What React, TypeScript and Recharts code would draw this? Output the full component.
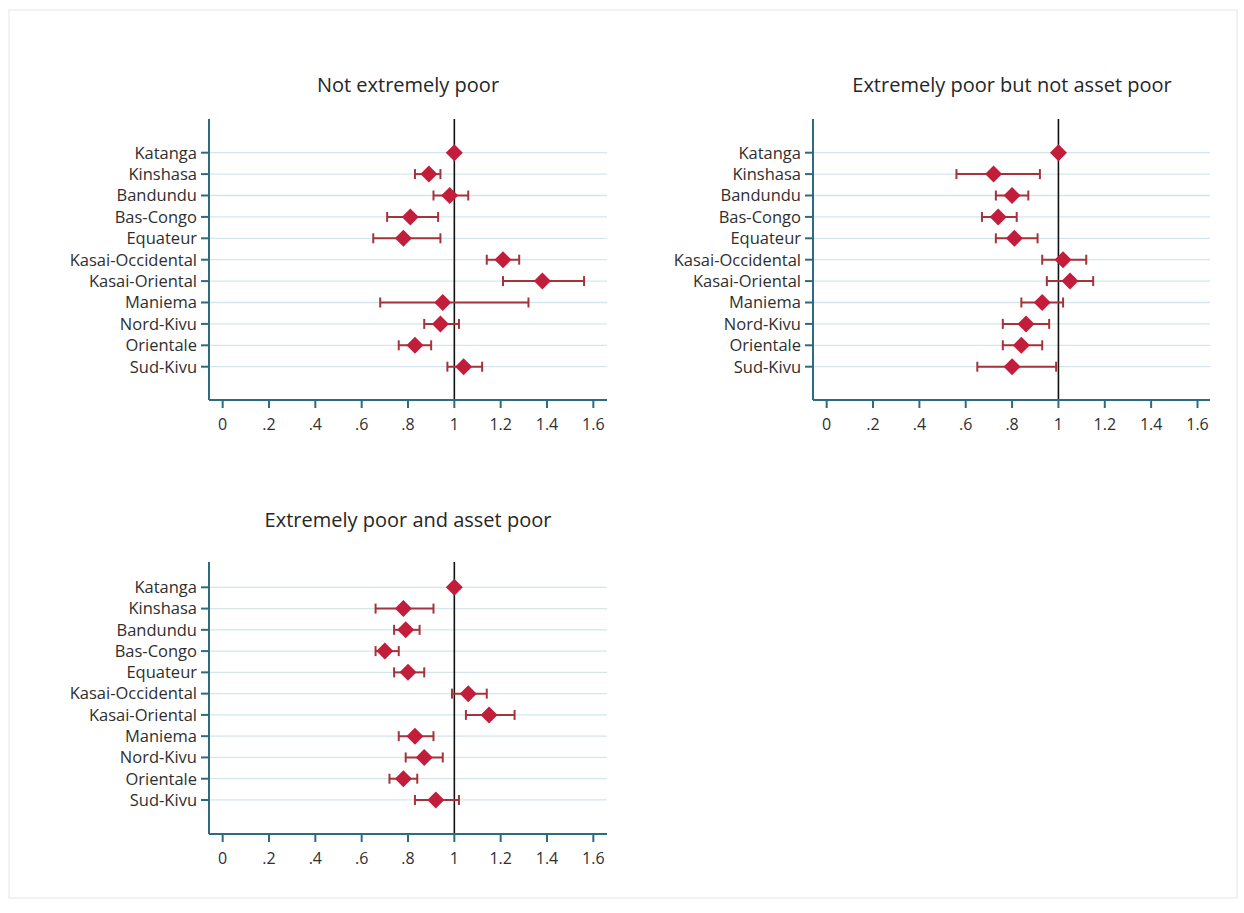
import React from 'react';
import {
  ComposedChart,
  Scatter,
  ErrorBar,
  XAxis,
  YAxis,
  ReferenceLine,
} from 'recharts';

// Provinces (Katanga is the reference category)
const regions = [
  'Katanga', 'Kinshasa', 'Bandundu', 'Bas-Congo', 'Equateur', 'Kasai-Occidental',
  'Kasai-Oriental', 'Maniema', 'Nord-Kivu', 'Orientale', 'Sud-Kivu',
];

const xTicks = [0, 0.2, 0.4, 0.6, 0.8, 1, 1.2, 1.4, 1.6];
const xTickLabels = ['0', '.2', '.4', '.6', '.8', '1', '1.2', '1.4', '1.6'];

// Not extremely poor
const est1 = [1.0, 0.89, 0.98, 0.81, 0.78, 1.21, 1.38, 0.95, 0.94, 0.83, 1.04];
const lo1 = [1.0, 0.83, 0.91, 0.71, 0.65, 1.14, 1.21, 0.68, 0.87, 0.76, 0.97];
const hi1 = [1.0, 0.94, 1.06, 0.93, 0.94, 1.28, 1.56, 1.32, 1.02, 0.9, 1.12];

// Extremely poor but not asset poor
const est2 = [1.0, 0.72, 0.8, 0.74, 0.81, 1.02, 1.05, 0.93, 0.86, 0.84, 0.8];
const lo2 = [1.0, 0.56, 0.73, 0.67, 0.73, 0.93, 0.95, 0.84, 0.76, 0.76, 0.65];
const hi2 = [1.0, 0.92, 0.87, 0.82, 0.91, 1.12, 1.15, 1.02, 0.96, 0.93, 0.99];

// Extremely poor and asset poor
const est3 = [1.0, 0.78, 0.79, 0.7, 0.8, 1.06, 1.15, 0.83, 0.87, 0.78, 0.92];
const lo3 = [1.0, 0.66, 0.74, 0.66, 0.74, 0.99, 1.05, 0.76, 0.79, 0.72, 0.83];
const hi3 = [1.0, 0.91, 0.85, 0.76, 0.87, 1.14, 1.26, 0.91, 0.95, 0.84, 1.02];

const AXIS = '#2d6b80';
const GRID = '#d4e6ec';
const MARKER = '#c21d3b';
const BAR = '#a3343c';
const TEXT = '#2f2f2f';
const FONT = '"Open Sans", sans-serif';

const buildRows = (est: number[], lo: number[], hi: number[]) =>
  regions.map((name, i) => ({
    name,
    row: i,
    est: est[i],
    err: [est[i] - lo[i], hi[i] - est[i]],
  }));

const Diamond = (props: any) => {
  const { cx, cy } = props;
  if (cx == null || cy == null) return null;
  const w = 8.5;
  const h = 8.5;
  return (
    <polygon
      points={`${cx},${cy - h} ${cx + w},${cy} ${cx},${cy + h} ${cx - w},${cy}`}
      fill={MARKER}
    />
  );
};

interface PanelProps {
  title: string;
  est: number[];
  lo: number[];
  hi: number[];
  left: number;
  top: number;
  width: number;
  height: number;
  axisWidth: number;
  marginTop: number;
  marginRight: number;
  xDomain: [number, number];
  yDomain: [number, number];
  titleX: number;
  titleY: number;
}

const Panel: React.FC<PanelProps> = (p) => {
  const data = buildRows(p.est, p.lo, p.hi);
  return (
    <>
      <div
        style={{
          position: 'absolute',
          left: p.titleX - 250,
          top: p.titleY - 15,
          width: 500,
          textAlign: 'center',
          fontFamily: FONT,
          fontSize: 20,
          color: '#262626',
          lineHeight: '30px',
        }}
      >
        {p.title}
      </div>
      <div style={{ position: 'absolute', left: p.left, top: p.top }}>
        <ComposedChart
          width={p.width}
          height={p.height}
          data={data}
          margin={{ top: p.marginTop, right: p.marginRight, bottom: 0, left: 0 }}
        >
          {regions.map((r, i) => (
            <ReferenceLine key={r} y={i} stroke={GRID} strokeWidth={1.3} />
          ))}
          <XAxis
            type="number"
            dataKey="est"
            domain={p.xDomain}
            allowDataOverflow
            ticks={xTicks}
            interval={0}
            tickFormatter={(v: number) => xTickLabels[xTicks.indexOf(v)] ?? String(v)}
            height={40}
            tickSize={8}
            tickMargin={11}
            stroke={AXIS}
            strokeWidth={2}
            tick={{ fill: TEXT, fontSize: 16, fontFamily: FONT }}
          />
          <YAxis
            type="number"
            dataKey="row"
            reversed
            domain={p.yDomain}
            allowDataOverflow
            ticks={regions.map((_, i) => i)}
            interval={0}
            tickFormatter={(v: number) => regions[Math.round(v)] ?? ''}
            width={p.axisWidth}
            tickSize={8}
            tickMargin={4}
            stroke={AXIS}
            strokeWidth={2}
            tick={{ fill: TEXT, fontSize: 16.5, fontFamily: FONT }}
          />
          <ReferenceLine x={1} stroke="#111111" strokeWidth={1.6} />
          <Scatter dataKey="est" shape={Diamond} isAnimationActive={false}>
            <ErrorBar dataKey="err" direction="x" width={5} stroke={BAR} strokeWidth={2} />
          </Scatter>
        </ComposedChart>
      </div>
    </>
  );
};

export default function App() {
  return (
    <div
      style={{
        position: 'absolute',
        left: 0,
        top: 0,
        width: 1244,
        height: 913,
        background: '#ffffff',
        overflow: 'hidden',
      }}
    >
      <div
        style={{
          position: 'absolute',
          left: 8,
          top: 9,
          width: 1230,
          height: 890,
          border: '2px solid #f0f3f3',
          boxSizing: 'border-box',
        }}
      />
      <Panel
        title="Not extremely poor"
        est={est1}
        lo={lo1}
        hi={hi1}
        left={0}
        top={100}
        width={620}
        height={340}
        axisWidth={209}
        marginTop={19}
        marginRight={13}
        xDomain={[-0.059, 1.659]}
        yDomain={[-1.575, 11.556]}
        titleX={408}
        titleY={85}
      />
      <Panel
        title="Extremely poor but not asset poor"
        est={est2}
        lo={lo2}
        hi={hi2}
        left={620}
        top={100}
        width={610}
        height={340}
        axisWidth={193}
        marginTop={19}
        marginRight={20}
        xDomain={[-0.059, 1.654]}
        yDomain={[-1.575, 11.556]}
        titleX={1012}
        titleY={85}
      />
      <Panel
        title="Extremely poor and asset poor"
        est={est3}
        lo={lo3}
        hi={hi3}
        left={0}
        top={540}
        width={620}
        height={334}
        axisWidth={209}
        marginTop={22}
        marginRight={13}
        xDomain={[-0.059, 1.659]}
        yDomain={[-1.19, 11.6]}
        titleX={408}
        titleY={520}
      />
    </div>
  );
}
